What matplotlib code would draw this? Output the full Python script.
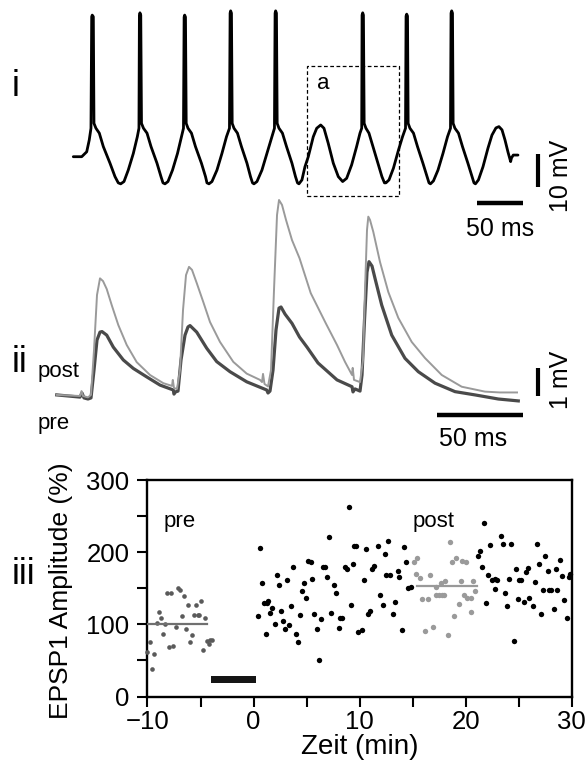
import matplotlib
matplotlib.use("Agg")
import matplotlib.pyplot as plt
from matplotlib.patches import Rectangle

plt.rcParams['font.family'] = ['Liberation Sans', 'DejaVu Sans']

# ---------------- Panel i: spike train (ms, mV) ----------------
I_T = [0, 9.3, 14.8, 17.6, 19.5, 20.3, 20.9, 22.1, 22.8, 25.0, 28.7, 33.1, 40.5, 46.0, 49.6, 52.3, 55.9, 60.6, 66.2, 70.6, 72.4,
       72.9, 73.5, 74.4, 75.2, 77.4, 81.3, 85.7, 92.3, 96.7, 98.9, 101.1, 104.4, 109.4, 114.9, 119.3, 121.5,
       122.2, 122.8, 123.7, 124.5, 126.5, 130.3, 134.7, 141.3, 145.8, 147.4, 149.6, 152.9, 158.4, 163.9, 168.9, 172.2,
       172.9, 173.5, 174.4, 175.2, 177.2, 181.0, 185.4, 191.5, 195.4, 197.6, 199.2, 202.5, 208.0, 213.5, 219.0, 221.8,
       222.5, 223.1, 224.0, 224.8, 226.8, 230.6, 235.1, 241.1, 245.0, 247.2, 248.8, 252.1, 255.4, 259.1, 264.6, 268.4,
       272.8, 276.4, 281.1, 286.7, 292.2, 297.0, 301.4, 306.9, 312.4, 316.1, 318.0,
       318.4, 319.1, 319.9, 320.7, 322.7, 326.0, 330.4, 335.9, 340.3, 343.1, 344.7, 348.1, 353.0, 358.5, 363.0, 366.3,
       366.9, 367.6, 368.5, 369.2, 371.2, 375.1, 379.5, 385.5, 390.0, 392.2, 393.8, 397.1, 402.1, 407.6, 412.6, 415.9,
       416.5, 417.2, 418.1, 418.8, 420.8, 424.7, 429.1, 435.1, 439.6, 441.8, 443.4, 446.7, 451.7, 457.2, 461.6, 466.0,
       469.3, 472.7, 476.0, 479.3, 482.2, 483.1, 485.1, 490.3]
I_V = [0, 0, 1.5, 5.1, 8.7, 42.8, 43.3, 42.8, 10.2, 8.7, 7.2, 3.1, -2.0, -6.1, -8.0, -8.3, -7.6, -4.1, 1.0, 6.1, 8.7,
       43.3, 44.0, 43.3, 10.2, 8.7, 7.2, 3.1, -2.0, -6.1, -8.0, -8.3, -7.6, -4.1, 1.0, 6.1, 8.7,
       42.7, 43.3, 42.7, 10.2, 8.7, 7.2, 3.1, -2.0, -6.1, -8.0, -8.3, -7.6, -4.1, 1.0, 6.1, 8.7,
       43.9, 44.6, 43.9, 10.2, 8.7, 7.2, 3.1, -2.0, -6.1, -8.0, -8.3, -7.6, -4.1, 1.0, 6.1, 8.7,
       43.9, 44.6, 43.9, 10.2, 8.7, 7.2, 3.1, -2.0, -6.1, -8.0, -8.3, -7.1, -3.1, 0.0, 6.1, 8.7,
       9.7, 8.7, 4.1, -2.0, -6.1, -7.6, -6.6, -2.5, 3.1, 7.2, 8.7,
       43.3, 44.0, 43.3, 10.2, 8.7, 7.2, 3.1, -2.0, -6.1, -8.0, -8.0, -7.1, -3.5, 2.0, 6.1, 8.7,
       43.0, 43.6, 43.0, 10.2, 8.7, 7.2, 3.1, -2.0, -6.1, -8.0, -8.3, -7.4, -4.1, 1.0, 6.1, 8.7,
       43.9, 44.6, 43.9, 10.2, 8.7, 7.2, 3.1, -2.0, -6.1, -8.0, -8.3, -7.1, -3.1, 2.6, 6.6, 8.8,
       9.2, 8.2, 5.1, 1.4, -1.5, -0.4, 0.5, 0.5]

# ---------------- Panel ii: EPSP traces (ms, mV) ----------------
POST_T = [0, 13.44, 14.31, 15.18, 18.06, 19.79, 21.52, 23.25, 24.98, 26.72, 28.85, 31.74, 35.54, 40.39, 46.16, 53.83,
          61.51, 66.53, 66.99, 67.68, 69.41, 71.14, 72.88, 74.61, 76.34, 78.07, 80.78, 84.59, 88.45, 94.22, 101.90,
          109.63, 117.30, 118.46, 119.04, 119.90, 121.92, 123.65, 125.38, 127.12, 128.27, 130.00, 132.31, 135.77,
          140.09, 146.56, 155.21, 161.73, 166.35, 170.39, 170.79, 171.55, 175.01, 176.74, 177.89, 179.04, 179.79,
          180.77, 182.68, 186.54, 191.33, 197.11, 204.84, 212.51, 222.15, 233.69, 247.13, 255.79, 265.59]
POST_V = [0.04, 0.0, 0.18, 0.0, -0.05, 0.04, 1.68, 3.70, 4.31, 4.21, 3.92, 3.33, 2.60, 1.87, 1.24, 0.77,
          0.47, 0.37, 0.59, 0.29, 0.26, 0.95, 3.15, 4.43, 4.73, 4.62, 4.14, 3.44, 2.71, 1.98, 1.25,
          0.82, 0.59, 0.51, 0.81, 0.44, 0.35, 0.95, 3.88, 6.63, 7.18, 7.00, 6.45, 5.71,
          5.05, 3.77, 2.67, 1.87, 1.25, 0.77, 1.03, 0.59, 0.51, 1.32, 3.88, 6.08, 6.57,
          6.45, 6.01, 4.91, 3.81, 2.86, 1.98, 1.39, 0.77, 0.34, 0.16, 0.13, 0.13]
PRE_T = [0, 13.44, 14.60, 15.75, 18.06, 19.79, 21.52, 23.25, 24.98, 26.14, 28.85, 32.66, 38.43, 44.20, 51.93, 59.60,
         67.28, 67.68, 68.55, 69.99, 71.72, 74.03, 75.76, 76.92, 80.78, 86.55, 92.32, 99.99, 109.63, 121.17, 121.92,
         123.07, 124.81, 126.54, 128.27, 129.43, 131.74, 135.77, 140.09, 144.42, 150.77, 161.73, 170.39, 170.97,
         172.12, 175.01, 176.16, 177.60, 179.04, 180.20, 181.93, 183.66, 187.53, 193.30, 200.97, 208.65, 218.28,
         229.82, 241.36, 254.81, 266.34]
PRE_V = [0.04, -0.04, 0.11, -0.07, -0.11, -0.07, 0.95, 2.05, 2.34, 2.36, 2.23, 1.79, 1.32, 1.01, 0.70, 0.40,
         0.22, 0.07, 0.15, 0.18, 1.32, 2.23, 2.53, 2.58, 2.34, 1.75, 1.26, 0.89, 0.52, 0.22, 0.11,
         0.18, 0.95, 2.42, 3.22, 3.26, 3.00, 2.66, 2.16, 1.79, 1.21, 0.59, 0.34, 0.15,
         0.26, 0.18, 0.77, 2.78, 4.54, 4.92, 4.76, 4.31, 3.33, 2.23, 1.38, 0.89, 0.47,
         0.16, 0.04, -0.11, -0.18]

# ---------------- Panel iii: EPSP1 amplitude over time ----------------
PRE_X = [-10.0, -9.76, -9.61, -9.36, -9.14, -8.95, -8.76, -8.57, -8.35, -8.19, -7.94, -7.75, -7.56, -7.31, -7.09,
         -6.90, -6.75, -6.59, -6.37, -6.15, -5.96, -5.80, -5.61, -5.39, -5.24, -5.11, -4.99, -4.80, -4.58, -4.42,
         -4.23, -4.10, -3.95]
PRE_Y = [62, 75, 38, 59, 102, 117, 109, 87, 100, 144, 69, 144, 70, 96, 150,
         148, 111, 139, 93, 127, 76, 85, 113, 127, 113, 113, 132, 64, 109, 77,
         73, 78, 78]
BLK_X = [0.39, 0.58, 0.83, 1.02, 1.18, 1.24, 1.40, 1.56, 1.78, 2.00, 2.19, 2.37, 2.56, 2.75, 3.00, 3.19, 3.38, 3.57,
         3.76, 4.01, 4.20, 4.39, 4.58, 4.73, 4.98, 5.17, 5.42, 5.55, 5.74, 5.99, 6.18, 6.37, 6.53, 6.71, 6.97, 7.15,
         7.34, 7.56, 7.75, 8.03, 8.19, 8.35, 8.63, 8.79, 8.98, 9.17, 9.36, 9.49, 9.68, 9.86, 10.22, 10.39, 10.58,
         10.77, 10.96, 11.15, 11.40, 11.78, 11.91, 12.22, 12.35, 12.53, 12.72, 12.85, 13.19, 13.35, 13.60, 13.73,
         13.98, 14.20, 14.39, 14.61, 14.83, 21.12, 21.35, 21.53, 21.72, 21.94, 22.10, 22.32, 22.48, 22.73, 22.98,
         22.73, 23.36, 23.52, 23.74, 23.93, 24.12, 24.31, 24.56, 24.75, 24.94, 25.00, 25.19, 25.47, 25.69, 25.88,
         26.01, 26.33, 26.51, 26.74, 26.96, 27.15, 27.27, 27.52, 27.74, 27.84, 28.09, 28.31, 28.53, 28.66, 28.94,
         29.09, 29.32, 29.57, 29.72, 29.88]
BLK_Y = [111, 206, 157, 129, 87, 130, 133, 116, 122, 100, 169, 155, 118, 105, 94, 161, 99, 125,
         179, 87, 75, 113, 146, 157, 136, 188, 186, 163, 114, 94, 51, 108, 179, 180, 166, 221,
         116, 155, 144, 95, 109, 109, 180, 176, 262, 127, 183, 208, 208, 89, 92, 161, 205,
         115, 118, 177, 181, 208, 141, 127, 197, 168, 216, 169, 115, 131, 174, 166,
         92, 207, 186, 151, 152, 195, 201, 180, 240, 130, 168, 210, 162, 163, 162,
         149, 222, 211, 143, 125, 163, 211, 77, 176, 135, 161, 161, 131, 172, 178,
         137, 125, 158, 212, 183, 114, 148, 194, 174, 148, 148, 121, 177, 148, 189,
         167, 134, 109, 165, 170]
POST_X = [15.17, 15.42, 15.30, 15.68, 15.86, 16.43, 16.18, 16.68, 16.93, 17.18, 17.18, 17.50, 17.69, 17.81, 18.00,
          18.07, 18.38, 18.57, 18.88, 18.76, 19.07, 19.33, 19.58, 19.70, 19.83, 20.08, 20.14, 20.52, 20.46, 20.74,
          20.90]
POST_Y = [187, 192, 170, 164, 135, 135, 91, 168, 96, 152, 140, 140, 157, 141, 140,
          160, 85, 214, 111, 187, 192, 128, 160, 188, 141, 186, 137, 117, 136, 160,
          146]
PRE_MEAN = 100.5
POST_MEAN = 153
PRE_WIN = [-10, -4.42]
POST_WIN = [15.4, 21.05]
INDUCTION = [-4.0, 0.25]
X_TICKS = [-10, 0, 10, 20, 30]
Y_TICKS = [0, 100, 200, 300]

W, H = 587, 770
fig = plt.figure(figsize=(W / 100, H / 100), dpi=100)

def fx(px):
    return px / W

def fy(py):
    return 1 - py / H

# ---- panel i ----
ax1 = fig.add_axes([0, fy(250), 1, 250 / H])
ax1.set_xlim(-80.8, 566.4)
ax1.set_ylim(-28.53, 47.92)
ax1.axis('off')
ax1.patch.set_alpha(0)
ax1.plot(I_T, I_V, color='black', lw=2.0, solid_joinstyle='round', solid_capstyle='round')
ax1.add_patch(Rectangle((258.0, -12.0), 101.1, 39.7, fill=False, ls=(0, (3, 2)), lw=0.9, ec='black'))
ax1.text(275.3, 22.5, 'a', fontsize=16, ha='center', va='center')
ax1.plot([512.7, 512.7], [-9.17, 0.83], color='black', lw=3.0, solid_capstyle='butt')
ax1.plot([445.4, 495.5], [-14.07, -14.07], color='black', lw=3.2, solid_capstyle='butt')
ax1.text(537.7, -5.9, '10 mV', fontsize=18, rotation=90, ha='center', va='center')
ax1.text(470.5, -22.1, '50 ms', fontsize=18, ha='center', va='center')

# ---- panel ii ----
ax2 = fig.add_axes([0, fy(450), 1, 260 / H])
ax2.set_xlim(-32.72, 305.98)
ax2.set_ylim(-1.978, 7.546)
ax2.axis('off')
ax2.patch.set_alpha(0)
ax2.plot(PRE_T, PRE_V, color='#4a4a4a', lw=2.3, solid_joinstyle='round')
ax2.plot(POST_T, POST_V, color='#9a9a9a', lw=1.4, solid_joinstyle='round')
ax2.plot([277.9, 277.9], [0.01, 1.01], color='black', lw=3.0, solid_capstyle='butt')
ax2.plot([219.3, 269.2], [-0.696, -0.696], color='black', lw=3.2, solid_capstyle='butt')
ax2.text(291.0, 0.59, '1 mV', fontsize=18, rotation=90, ha='center', va='center')
ax2.text(240.2, -1.575, '50 ms', fontsize=18, ha='center', va='center')
ax2.text(-10.8, 0.88, 'post', fontsize=16, ha='left', va='center')
ax2.text(-10.8, -0.99, 'pre', fontsize=16, ha='left', va='center')

# ---- panel iii ----
ax3 = fig.add_axes([fx(147.5), fy(696.5), 424.2 / W, 216.5 / H])
ax3.set_xlim(-10, 30)
ax3.set_ylim(0, 300)
ax3.scatter(PRE_X, PRE_Y, s=11, color='#5a5a5a', lw=0, clip_on=False, zorder=3)
ax3.scatter(BLK_X, BLK_Y, s=15, color='black', lw=0, clip_on=False, zorder=3)
ax3.scatter(POST_X, POST_Y, s=15, color='#9a9a9a', lw=0, clip_on=False, zorder=3)
ax3.plot(PRE_WIN, [PRE_MEAN, PRE_MEAN], color='#707070', lw=1.6, zorder=4)
ax3.plot(POST_WIN, [POST_MEAN, POST_MEAN], color='#999999', lw=1.6, zorder=4)
ax3.add_patch(Rectangle((INDUCTION[0], 18.3), INDUCTION[1] - INDUCTION[0], 10.5, color='#151515', lw=0))
ax3.text(-7.0, 242, 'pre', fontsize=16, ha='center', va='center')
ax3.text(17.0, 242, 'post', fontsize=16, ha='center', va='center')
ax3.set_xticks(X_TICKS)
ax3.set_xticks([-5, 5, 15, 25], minor=True)
ax3.set_yticks(Y_TICKS)
ax3.set_yticks([50, 150, 250], minor=True)
ax3.tick_params(which='both', direction='out', length=7, width=1.5, labelsize=18.5)
ax3.tick_params(axis='y', pad=6)
ax3.tick_params(axis='x', pad=3)
for s in ax3.spines.values():
    s.set_linewidth(1.7)

fig.text(fx(61), fy(591), 'EPSP1 Amplitude (%)', fontsize=19, rotation=90, ha='center', va='center')
fig.text(fx(360), fy(747), 'Zeit (min)', fontsize=20, ha='center', va='center')

# panel labels
fig.text(fx(12), fy(87), 'i', fontsize=26, ha='left', va='center')
fig.text(fx(12), fy(363), 'ii', fontsize=26, ha='left', va='center')
fig.text(fx(12), fy(574), 'iii', fontsize=26, ha='left', va='center')

fig.savefig('out.png', dpi=100)
